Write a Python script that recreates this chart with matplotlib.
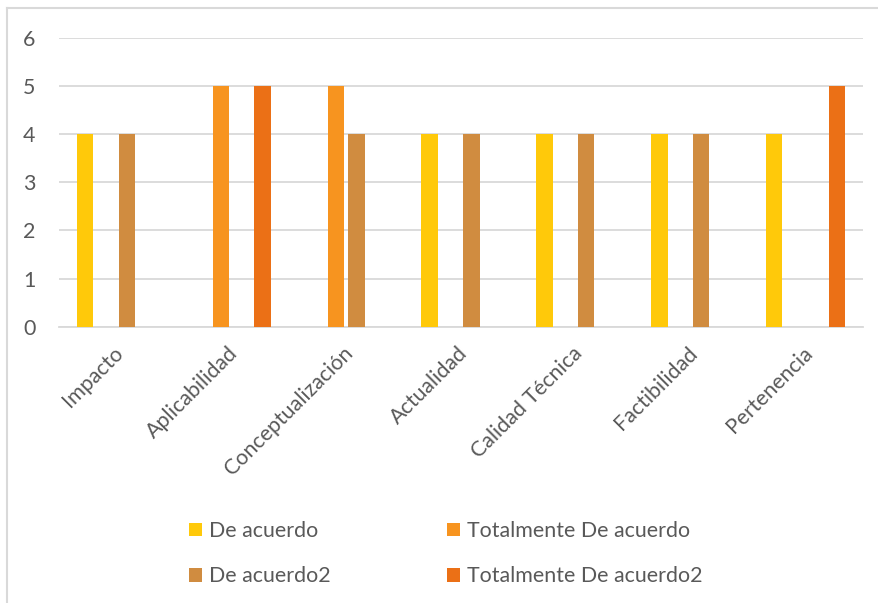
import numpy as np
import matplotlib
matplotlib.use("Agg")
import matplotlib.pyplot as plt
from matplotlib.patches import Patch
from matplotlib.lines import Line2D

categories = ["Impacto", "Aplicabilidad", "Conceptualización", "Actualidad",
              "Calidad Técnica", "Factibilidad", "Pertenencia"]
series_names = ["De acuerdo", "Totalmente De acuerdo", "De acuerdo2", "Totalmente De acuerdo2"]
nan = np.nan
de_acuerdo = [4, nan, nan, 4, 4, 4, 4]
totalmente = [nan, 5, 5, nan, nan, nan, nan]
de_acuerdo2 = [4, nan, 4, 4, 4, 4, nan]
totalmente2 = [nan, 5, nan, nan, nan, nan, 5]
series_values = [de_acuerdo, totalmente, de_acuerdo2, totalmente2]
colors = ["#FFC90A", "#F7941F", "#D08C40", "#EB7016"]
yticks = [0, 1, 2, 3, 4, 5, 6]

FONT = "Lato"
FS = 15.4
TXT = "#595959"
GRID = "#D9D9D9"

W, H = 879, 603
fig = plt.figure(figsize=(W / 100, H / 100), dpi=100)
ax = fig.add_axes([59 / W, 1 - 326.7 / H, (863 - 59) / W, (326.7 - 37.7) / H])

x = np.arange(len(categories))
step, width = 0.182, 0.142
handles = []
for i, (name, vals, c) in enumerate(zip(series_names, series_values, colors)):
    ax.bar(x + (i - 1.5) * step, vals, width=width, color=c, zorder=3)
    handles.append(Patch(facecolor=c, label=name))

ax.set_xlim(-0.5, len(categories) - 0.5)
ax.set_ylim(0, 6)
ax.set_yticks(yticks)
ax.set_yticklabels([str(v) for v in yticks], fontsize=FS, color=TXT, family=FONT)
ax.yaxis.grid(True, color=GRID, linewidth=1.3, zorder=0)
ax.set_axisbelow(True)
for s in ["top", "right", "left"]:
    ax.spines[s].set_visible(False)
ax.spines["bottom"].set_color(GRID)
ax.spines["bottom"].set_linewidth(1.3)
ax.tick_params(axis="y", length=0, pad=17)
ax.tick_params(axis="x", length=0, pad=17)
ax.set_xticks(x + 0.03)
ax.set_xticklabels(categories, rotation=45, ha="right", va="center",
                   rotation_mode="anchor", fontsize=FS, color=TXT, family=FONT)

# legend in two columns, row-wise order
order = [0, 2, 1, 3]
leg = fig.legend([handles[k] for k in order], [series_names[k] for k in order],
                 ncol=2, loc="upper left", bbox_to_anchor=(189 / W, 1 - 521 / H),
                 frameon=False, prop={"family": FONT, "size": FS},
                 handlelength=0.62, handleheight=0.62, handletextpad=0.3,
                 columnspacing=5.45, labelspacing=1.18, borderpad=0, borderaxespad=0)
for t in leg.get_texts():
    t.set_color(TXT)

# chart frame
fig.add_artist(Line2D([7 / W, 1], [1 - 8 / H, 1 - 8 / H], color=GRID, linewidth=1.5))
fig.add_artist(Line2D([7 / W, 7 / W], [0, 1 - 8 / H], color=GRID, linewidth=1.5))

fig.savefig("out.png", dpi=100, facecolor="white")
